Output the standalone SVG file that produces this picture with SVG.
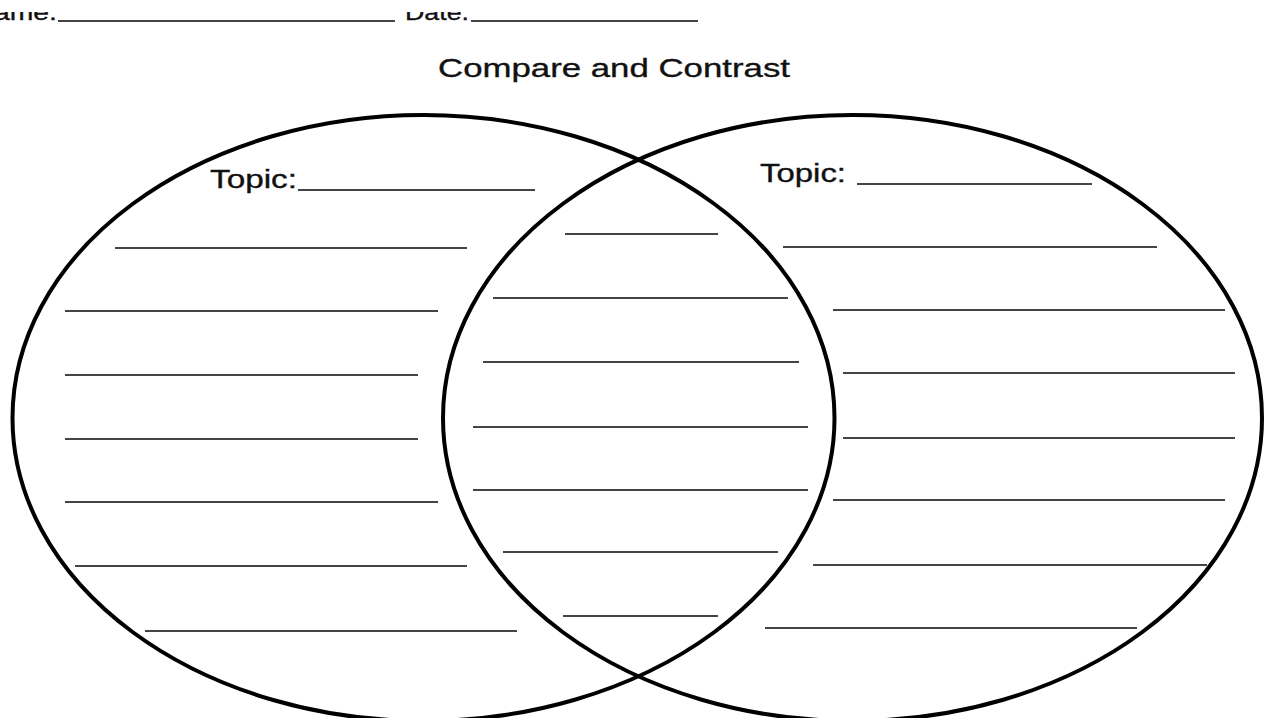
<svg xmlns="http://www.w3.org/2000/svg" width="1266" height="718" viewBox="0 0 1266 718">
<style>
.t{font-family:"Liberation Sans",Arial,Helvetica,sans-serif;fill:#111;stroke:#111;stroke-width:0.35}
.ln{stroke:#444;stroke-width:1.9;fill:none}
.ring{stroke:#000;stroke-width:4;fill:none}
</style>
<defs>
<clipPath id="topclip"><rect x="0" y="12" width="1266" height="20"/></clipPath>
</defs>
<rect x="0" y="0" width="1266" height="718" fill="#fff"/>
<g id="header">
<text class="t" x="-6" y="20" font-size="22" textLength="63" lengthAdjust="spacingAndGlyphs" clip-path="url(#topclip)">ame:</text>
<line class="ln" x1="58" y1="21" x2="395" y2="21"/>
<text class="t" x="405" y="20" font-size="22" textLength="64" lengthAdjust="spacingAndGlyphs" clip-path="url(#topclip)">Date:</text>
<line class="ln" x1="471" y1="21" x2="698" y2="21"/>
</g>
<g id="title">
<text class="t" x="438" y="77" font-size="26.5" textLength="352" lengthAdjust="spacingAndGlyphs">Compare and Contrast</text>
</g>
<g id="left-circle">
<ellipse class="ring" cx="423.5" cy="418" rx="411" ry="303"/>
<text class="t" x="210" y="188" font-size="25.5" textLength="87" lengthAdjust="spacingAndGlyphs">Topic:</text>
<line class="ln" x1="298" y1="190" x2="535" y2="190"/>
<line class="ln" x1="115" y1="248" x2="467" y2="248"/>
<line class="ln" x1="65" y1="311" x2="438" y2="311"/>
<line class="ln" x1="65" y1="375" x2="418" y2="375"/>
<line class="ln" x1="65" y1="439" x2="418" y2="439"/>
<line class="ln" x1="65" y1="502" x2="438" y2="502"/>
<line class="ln" x1="75" y1="566" x2="467" y2="566"/>
<line class="ln" x1="145" y1="631" x2="517" y2="631"/>
</g>
<g id="right-circle">
<ellipse class="ring" cx="852.5" cy="418" rx="409.5" ry="303"/>
<text class="t" x="760" y="182" font-size="25.5" textLength="86" lengthAdjust="spacingAndGlyphs">Topic:</text>
<line class="ln" x1="857" y1="184" x2="1092" y2="184"/>
<line class="ln" x1="783" y1="247" x2="1157" y2="247"/>
<line class="ln" x1="833" y1="310" x2="1225" y2="310"/>
<line class="ln" x1="843" y1="373" x2="1235" y2="373"/>
<line class="ln" x1="843" y1="438" x2="1235" y2="438"/>
<line class="ln" x1="833" y1="500" x2="1225" y2="500"/>
<line class="ln" x1="813" y1="565" x2="1207" y2="565"/>
<line class="ln" x1="765" y1="628" x2="1137" y2="628"/>
</g>
<g id="overlap">
<line class="ln" x1="565" y1="234" x2="718" y2="234"/>
<line class="ln" x1="493" y1="298" x2="788" y2="298"/>
<line class="ln" x1="483" y1="362" x2="799" y2="362"/>
<line class="ln" x1="473" y1="427" x2="808" y2="427"/>
<line class="ln" x1="473" y1="490" x2="808" y2="490"/>
<line class="ln" x1="503" y1="552" x2="778" y2="552"/>
<line class="ln" x1="563" y1="616" x2="718" y2="616"/>
</g>
</svg>
